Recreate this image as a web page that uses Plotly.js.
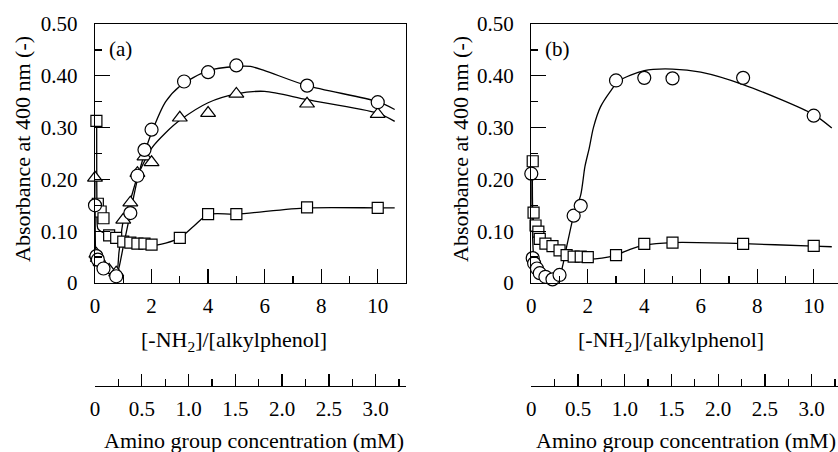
<!DOCTYPE html>
<html>
<head>
<meta charset="utf-8">
<script src="https://cdn.plot.ly/plotly-3.0.1.min.js"></script>
<style>html,body{margin:0;padding:0;background:#fff;}#chart{width:838px;height:452px;}</style>
</head>
<body>
<div id="chart"></div>
<script>
// ---------- Panel (a) data ----------
const aCircleX = [0, 0.05, 0.1, 0.3, 0.75, 1.25, 1.5, 1.75, 2.0, 3.15, 4.0, 5.0, 7.5, 10];
const aCircleY = [0.15, 0.052, 0.045, 0.028, 0.013, 0.135, 0.207, 0.257, 0.296, 0.389, 0.407, 0.42, 0.381, 0.349];
const aTriX = [0, 0.05, 0.1, 0.2, 0.5, 0.75, 1.0, 1.25, 1.5, 1.75, 2.0, 3.0, 4.0, 5.0, 7.5, 10];
const aTriY = [0.203, 0.056, 0.048, 0.04, 0.025, 0.02, 0.122, 0.155, 0.212, 0.244, 0.233, 0.319, 0.328, 0.365, 0.346, 0.326];
const aSqX = [0.05, 0.1, 0.2, 0.3, 0.5, 0.75, 1.0, 1.25, 1.5, 1.75, 2.0, 3.0, 4.0, 5.0, 7.5, 10];
const aSqY = [0.313, 0.153, 0.138, 0.125, 0.092, 0.087, 0.08, 0.078, 0.076, 0.076, 0.074, 0.087, 0.133, 0.133, 0.146, 0.145];
// fitted curves (a)
const aCircleFitX = [0, 0.03, 0.1, 0.25, 0.5, 0.75, 0.85, 1.0, 1.25, 1.5, 1.75, 2.0, 2.5, 3.0, 4.0, 5.0, 5.5, 6.0, 7.5, 10, 10.6];
const aCircleFitY = [0.15, 0.06, 0.045, 0.03, 0.018, 0.012, 0.03, 0.07, 0.135, 0.2, 0.25, 0.29, 0.35, 0.38, 0.41, 0.418, 0.418, 0.41, 0.381, 0.35, 0.335];
const aTriFitX = [0, 0.03, 0.1, 0.25, 0.5, 0.75, 0.85, 1.0, 1.25, 1.5, 1.75, 2.0, 2.5, 3.0, 4.0, 5.0, 6.0, 7.5, 10, 10.6];
const aTriFitY = [0.2, 0.06, 0.05, 0.035, 0.025, 0.02, 0.06, 0.12, 0.16, 0.205, 0.235, 0.26, 0.29, 0.314, 0.348, 0.365, 0.37, 0.354, 0.328, 0.312];
const aSqFitX = [0.06, 0.07, 0.1, 0.2, 0.5, 0.75, 1.0, 1.5, 2.0, 2.5, 3.0, 3.5, 4.0, 5.0, 7.5, 10, 10.6];
const aSqFitY = [0.31, 0.15, 0.105, 0.1, 0.093, 0.088, 0.08, 0.075, 0.072, 0.077, 0.087, 0.11, 0.132, 0.133, 0.145, 0.145, 0.145];

// ---------- Panel (b) data ----------
const bCircleX = [0, 0.05, 0.1, 0.2, 0.3, 0.5, 0.75, 1.0, 1.5, 1.75, 3.0, 4.0, 5.0, 7.5, 10];
const bCircleY = [0.211, 0.048, 0.038, 0.028, 0.019, 0.012, 0.007, 0.0155, 0.13, 0.149, 0.391, 0.396, 0.395, 0.396, 0.323];
const bSqX = [0.05, 0.08, 0.15, 0.25, 0.3, 0.5, 0.75, 1.0, 1.25, 1.5, 1.75, 2.0, 3.0, 4.0, 5.0, 7.5, 10];
const bSqY = [0.235, 0.136, 0.111, 0.099, 0.085, 0.076, 0.071, 0.063, 0.054, 0.051, 0.051, 0.05, 0.054, 0.0755, 0.078, 0.0755, 0.0716];
// fitted curves (b)
const bCircleFitX = [0, 0.04, 0.1, 0.25, 0.5, 0.75, 1.0, 1.25, 1.5, 1.75, 1.9, 2.05, 2.2, 2.45, 2.8, 3.1, 4.0, 5.0, 6.0, 7.5, 10, 10.64];
const bCircleFitY = [0.21, 0.1, 0.045, 0.022, 0.012, 0.007, 0.015, 0.07, 0.13, 0.17, 0.225, 0.26, 0.3, 0.34, 0.37, 0.39, 0.41, 0.413, 0.407, 0.383, 0.325, 0.299];
const bSqFitX = [0.04, 0.05, 0.1, 0.2, 0.3, 0.5, 0.75, 1.0, 1.5, 2.0, 2.5, 3.0, 3.5, 4.0, 5.0, 7.5, 10, 10.64];
const bSqFitY = [0.235, 0.14, 0.11, 0.09, 0.08, 0.072, 0.067, 0.06, 0.05, 0.046, 0.048, 0.054, 0.065, 0.073, 0.078, 0.076, 0.071, 0.07];

// ---------- Tick labels ----------
const yTickVals = [0, 0.1, 0.2, 0.3, 0.4, 0.5];
const yTickText = ['0', '0.10', '0.20', '0.30', '0.40', '0.50'];
const xTickVals = [0, 2, 4, 6, 8, 10];
const mmTickVals = [0, 0.5, 1.0, 1.5, 2.0, 2.5, 3.0];
const mmTickText = ['0', '0.5', '1.0', '1.5', '2.0', '2.5', '3.0'];

const FONT = '"Liberation Serif", "Times New Roman", Times, serif';
const W = 838, H = 452;
const px = v => v / W;
const py = v => 1 - v / H;

function fit(x, y, xa, ya) {
  return {x, y, xaxis: xa, yaxis: ya, mode: 'lines', type: 'scatter',
    line: {color: '#000', width: 1.3, shape: 'spline', smoothing: 0.8},
    hoverinfo: 'skip', showlegend: false};
}
function pts(x, y, xa, ya, symbol, size) {
  return {x, y, xaxis: xa, yaxis: ya, mode: 'markers', type: 'scatter', cliponaxis: false,
    marker: {symbol, size, color: '#fff', line: {color: '#000', width: 1.2}},
    showlegend: false};
}
// invisible carrier so the concentration axes exist as subplots
function carrier(xa, ya) {
  return {x: mmTickVals, y: mmTickVals.map(() => null), xaxis: xa, yaxis: ya, mode: 'markers',
    type: 'scatter', marker: {opacity: 0}, hoverinfo: 'skip', showlegend: false};
}

const data = [
  fit(aSqFitX, aSqFitY, 'x', 'y'),
  fit(aTriFitX, aTriFitY, 'x', 'y'),
  fit(aCircleFitX, aCircleFitY, 'x', 'y'),
  pts(aSqX, aSqY, 'x', 'y', 'square', 11),
  pts(aTriX, aTriY, 'x', 'y', 'triangle-up', 13),
  pts(aCircleX, aCircleY, 'x', 'y', 'circle', 13),
  fit(bSqFitX, bSqFitY, 'x2', 'y2'),
  fit(bCircleFitX, bCircleFitY, 'x2', 'y2'),
  pts(bSqX, bSqY, 'x2', 'y2', 'square', 11),
  pts(bCircleX, bCircleY, 'x2', 'y2', 'circle', 13),
  carrier('x3', 'y3'),
  carrier('x4', 'y4')
];

const tickFont = {family: FONT, size: 21, color: '#000'};
const yDom = [py(283), py(24)];
const domA = [px(95), px(406)];
const domB = [px(531.3), 1];
const mmDom = [py(386), py(380)];

function mainX(dom, range, anchor) {
  return {domain: dom, range, anchor, showline: true, mirror: true, linecolor: '#000', linewidth: 1.3,
    ticks: 'inside', ticklen: 14, tickwidth: 1.3, tickcolor: '#000',
    tickvals: xTickVals, ticktext: xTickVals.map(String), tickfont: tickFont, ticklabelstandoff: 3,
    minor: {dtick: 1, tick0: 0, ticks: 'inside', ticklen: 7, tickwidth: 1.3, tickcolor: '#000', showgrid: false},
    showgrid: false, zeroline: false, fixedrange: true};
}
function mainY(anchor, mirror) {
  return {domain: yDom, range: [0, 0.5], anchor, showline: true, mirror, linecolor: '#000', linewidth: 1.3,
    ticks: 'inside', ticklen: 15, tickwidth: 1.3, tickcolor: '#000',
    tickvals: yTickVals, ticktext: yTickText, tickfont: tickFont, ticklabelstandoff: 12,
    minor: {dtick: 0.05, tick0: 0, ticks: 'inside', ticklen: 7, tickwidth: 1.3, tickcolor: '#000', showgrid: false},
    showgrid: false, zeroline: false, fixedrange: true};
}
function mmX(dom, range, anchor) {
  return {domain: dom, range, anchor, side: 'bottom',
    showline: true, linecolor: '#000', linewidth: 1.3,
    ticks: 'inside', ticklen: 12, tickwidth: 1.3, tickcolor: '#000',
    tickvals: mmTickVals, ticktext: mmTickText, tickfont: tickFont, ticklabelstandoff: 3,
    minor: {dtick: 0.25, tick0: 0, ticks: 'inside', ticklen: 7, tickwidth: 1.3, tickcolor: '#000', showgrid: false},
    showgrid: false, zeroline: false, fixedrange: true};
}
function hiddenY(anchor) {
  return {domain: mmDom, range: [0, 1], anchor, visible: false, showgrid: false, zeroline: false, fixedrange: true};
}

const titleFont = {family: FONT, size: 22, color: '#000'};
function ann(text, x, y, angle) {
  return {text, x, y, xref: 'paper', yref: 'paper', xanchor: 'center', yanchor: 'middle',
    showarrow: false, textangle: angle || 0, font: titleFont};
}

const layout = {
  width: W, height: H,
  margin: {l: 0, r: 0, t: 0, b: 0, pad: 0},
  paper_bgcolor: '#fff', plot_bgcolor: 'rgba(0,0,0,0)',
  showlegend: false,
  font: {family: FONT, size: 21, color: '#000'},
  xaxis: mainX(domA, [0, 11], 'y'),
  yaxis: mainY('x', true),
  xaxis2: mainX(domB, [0, 10.86], 'y2'),
  yaxis2: mainY('x2', false),
  xaxis3: mmX(domA, [0, 3.324], 'y3'),
  yaxis3: hiddenY('x3'),
  xaxis4: mmX(domB, [0, 3.282], 'y4'),
  yaxis4: hiddenY('x4'),
  annotations: [
    Object.assign(ann('(a)', px(107), py(49)), {xanchor: 'left', font: tickFont}),
    Object.assign(ann('(b)', px(543), py(49)), {xanchor: 'left', font: tickFont}),
    ann('Absorbance at 400 nm (-)', px(22), py(149), -90),
    ann('Absorbance at 400 nm (-)', px(460), py(149), -90),
    ann('[-NH<sub>2</sub>]/[alkylphenol]', px(234), py(341)),
    ann('[-NH<sub>2</sub>]/[alkylphenol]', px(671), py(341)),
    ann('Amino group concentration (mM)', px(254), py(440)),
    ann('Amino group concentration (mM)', px(686), py(440))
  ]
};

Plotly.newPlot('chart', data, layout, {staticPlot: true, displayModeBar: false});
</script>
</body>
</html>
